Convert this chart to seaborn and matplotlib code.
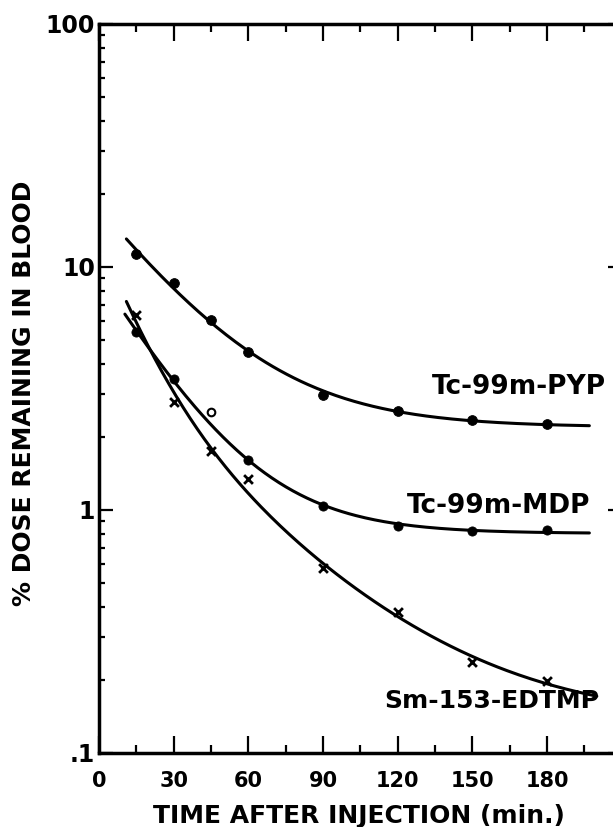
import matplotlib
matplotlib.use("Agg")
import matplotlib.pyplot as plt
import matplotlib.ticker as mticker
import seaborn as sns
import numpy as np

# values (time in min, % dose remaining in blood)
times = [15, 30, 45, 60, 90, 120, 150, 180]
pyp = [11.3, 8.6, 6.05, 4.47, 2.97, 2.56, 2.35, 2.26]
mdp_times = [15, 30, 60, 90, 120, 150, 180]
mdp = [5.40, 3.46, 1.61, 1.04, 0.86, 0.82, 0.83]
mdp_open_time = [45]
mdp_open = [2.53]
edtmp = [6.35, 2.78, 1.75, 1.34, 0.577, 0.380, 0.237, 0.198]

# time span covered by each fitted curve
pyp_span = (11, 197)
mdp_span = (10.4, 197)
edtmp_span = (11, 200)

x_ticks = [0, 30, 60, 90, 120, 150, 180]
y_ticks = [0.1, 1, 10, 100]
y_tick_labels = [".1", "1", "10", "100"]

sns.set_style("ticks")
plt.rcParams['font.family'] = ['DejaVu Sans']
plt.rcParams['font.weight'] = 'bold'
for key in ['text.color', 'axes.labelcolor', 'xtick.color', 'ytick.color',
            'axes.edgecolor']:
    plt.rcParams[key] = 'black'


def fit_curve(t, v, span):
    # two exponentials plus a plateau, least squares on relative error
    t = np.asarray(t, float)
    v = np.asarray(v, float)
    rates = np.geomspace(0.004, 0.07, 70)
    best = None
    for i, a in enumerate(rates):
        cands = [np.column_stack([np.exp(-a * t), np.ones_like(t)])]
        for b in rates[i + 1:]:
            cands.append(np.column_stack([np.exp(-a * t), np.exp(-b * t),
                                          np.ones_like(t)]))
        for j, X in enumerate(cands):
            Xw = X / v[:, None]
            coef = np.linalg.lstsq(Xw, np.ones_like(t), rcond=None)[0]
            if np.any(coef < -1e-9):
                continue
            err = np.sum((Xw @ coef - 1) ** 2)
            b = rates[i + j] if j > 0 else None
            if best is None or err < best[0]:
                best = (err, a, b, coef)
    _, a, b, coef = best
    tt = np.linspace(span[0], span[1], 200)
    if b is None:
        vv = coef[0] * np.exp(-a * tt) + coef[1]
    else:
        vv = coef[0] * np.exp(-a * tt) + coef[1] * np.exp(-b * tt) + coef[2]
    return tt, vv


fig = plt.figure(figsize=(6.13, 8.27), dpi=100)
ax = fig.add_axes([0.1615, 0.0895, 0.8527, 0.8815])

for t, v, span in [(times, pyp, pyp_span), (mdp_times, mdp, mdp_span),
                   (times, edtmp, edtmp_span)]:
    tt, vv = fit_curve(t, v, span)
    sns.lineplot(x=tt, y=vv, ax=ax, color='black', lw=2.2)

sns.scatterplot(x=times, y=pyp, ax=ax, marker='o', s=50, color='black',
                edgecolor='black', zorder=3)
sns.scatterplot(x=mdp_times, y=mdp, ax=ax, marker='o', s=44, color='black',
                edgecolor='black', zorder=3)
sns.scatterplot(x=mdp_open_time, y=mdp_open, ax=ax, marker='o', s=30,
                facecolor='white', edgecolor='black', linewidth=1.5, zorder=3)
sns.scatterplot(x=times, y=edtmp, ax=ax, marker='x', s=40, color='black',
                linewidth=2, zorder=3)

ax.set_yscale('log')
ax.set_xlim(0, 210)
ax.set_ylim(0.1, 100)

ax.set_xticks(x_ticks)
ax.xaxis.set_minor_locator(mticker.MultipleLocator(15))
ax.set_yticks(y_ticks)
ax.set_yticklabels(y_tick_labels)
ax.yaxis.set_minor_locator(mticker.LogLocator(base=10, subs=np.arange(2, 10)))
ax.yaxis.set_minor_formatter(mticker.NullFormatter())

ax.tick_params(which='both', direction='in', top=True, right=True,
               width=1.6, color='black', labelcolor='black')
ax.tick_params(axis='x', which='major', length=12.5, pad=13, labelsize=15)
ax.tick_params(axis='x', which='minor', length=6)
ax.tick_params(axis='y', which='major', length=10, pad=3, labelsize=17)
ax.tick_params(axis='y', which='minor', length=4.5)
for lab in ax.get_xticklabels() + ax.get_yticklabels():
    lab.set_fontweight('bold')

for sp in ax.spines.values():
    sp.set_linewidth(2.5)
    sp.set_color('black')

ax.set_xlabel("TIME AFTER INJECTION (min.)", fontsize=18, fontweight='bold')
ax.set_ylabel("% DOSE REMAINING IN BLOOD", fontsize=18, fontweight='bold')
ax.xaxis.set_label_coords(0.497, -0.0705)
ax.yaxis.set_label_coords(-0.12, 0.493)

ax.text(203.6, 3.21, "Tc-99m-PYP", ha='right', va='center', fontsize=19,
        fontweight='bold')
ax.text(197.6, 1.04, "Tc-99m-MDP", ha='right', va='center', fontsize=19,
        fontweight='bold')
ax.text(200.8, 0.164, "Sm-153-EDTMP", ha='right', va='center', fontsize=18,
        fontweight='bold')

fig.savefig("out.png", dpi=100)
